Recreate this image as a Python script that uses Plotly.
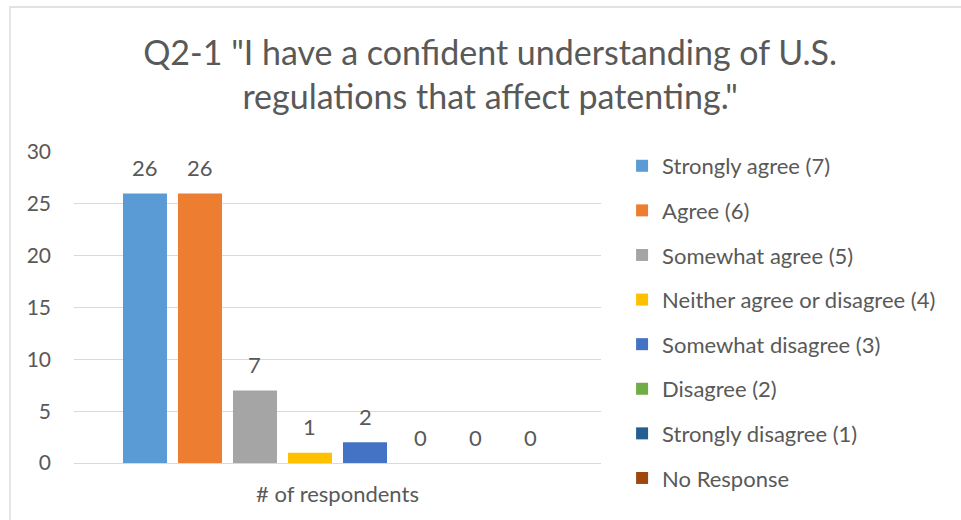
import plotly.graph_objects as go

categories = ["# of respondents"]
series_names = [
    "Strongly agree (7)",
    "Agree (6)",
    "Somewhat agree (5)",
    "Neither agree or disagree (4)",
    "Somewhat disagree (3)",
    "Disagree (2)",
    "Strongly disagree (1)",
    "No Response",
]
series_values = [26, 26, 7, 1, 2, 0, 0, 0]
series_colors = ["#5B9BD5", "#ED7D31", "#A5A5A5", "#FFC000",
                 "#4472C4", "#70AD47", "#255E91", "#9E480E"]
y_ticks = [0, 5, 10, 15, 20, 25, 30]
title_text = 'Q2-1 "I have a confident understanding of U.S.<br>regulations that affect patenting."'

W, H = 961, 520
ML, MR, MT, MB = 74, 360, 152, 57
PLOT_W = W - ML - MR
PLOT_H = H - MT - MB
BARGAP = 0.165
BARGROUPGAP = 0.2
FONT = "Lato"
GREY = "#595959"

fig = go.Figure()
for i, (name, val, col) in enumerate(zip(series_names, series_values, series_colors)):
    fig.add_trace(go.Bar(
        name=name, x=categories, y=[val],
        marker=dict(color=col, line=dict(width=0)),
        legendgroup=name,
    ))

# data labels placed above each bar (offset derived from bar group geometry)
n = len(series_values)
pitch = PLOT_W * (1 - BARGAP) / n
for i, val in enumerate(series_values):
    fig.add_annotation(
        x=categories[0], y=val, xref="x", yref="y",
        text=str(val), showarrow=False,
        xshift=(i - (n - 1) / 2) * pitch, yshift=26,
        yanchor="middle",
        font=dict(family=FONT, size=22, color=GREY),
    )

fig.update_layout(
    width=W, height=H,
    margin=dict(l=ML, r=MR, t=MT, b=MB),
    paper_bgcolor="white", plot_bgcolor="white",
    barmode="group", bargap=BARGAP, bargroupgap=BARGROUPGAP,
    title=dict(text=title_text, x=0.51, xanchor="center",
               y=1 - 65 / H, yref="container", yanchor="middle",
               font=dict(family=FONT, size=34, color=GREY)),
    font=dict(family=FONT, color=GREY),
    legend=dict(x=1.04, xanchor="left", y=1.0226, yanchor="top",
                font=dict(family=FONT, size=22, color=GREY),
                tracegroupgap=13, bgcolor="rgba(0,0,0,0)",
                maxheight=420),
    showlegend=True,
    xaxis=dict(showgrid=False, showline=False, ticks="",
               tickfont=dict(family=FONT, size=22, color=GREY),
               ticklabelstandoff=16),
    yaxis=dict(range=[0, 30], tickvals=y_ticks, showgrid=True,
               gridcolor="#D9D9D9", gridwidth=1,
               zeroline=True, zerolinecolor="#D9D9D9", zerolinewidth=1,
               showline=False, ticks="",
               tickfont=dict(family=FONT, size=21, color=GREY),
               ticklabelstandoff=22),
    shapes=[dict(type="rect", xref="paper", yref="paper",
                 x0=(10 - ML) / PLOT_W, x1=(W + 5 - ML) / PLOT_W,
                 y0=-(H + 5 - (H - MB)) / PLOT_H,
                 y1=((H - MB) - 7) / PLOT_H,
                 line=dict(color="#D9D9D9", width=1.3), layer="below")],
)

fig.write_html("out.html")
